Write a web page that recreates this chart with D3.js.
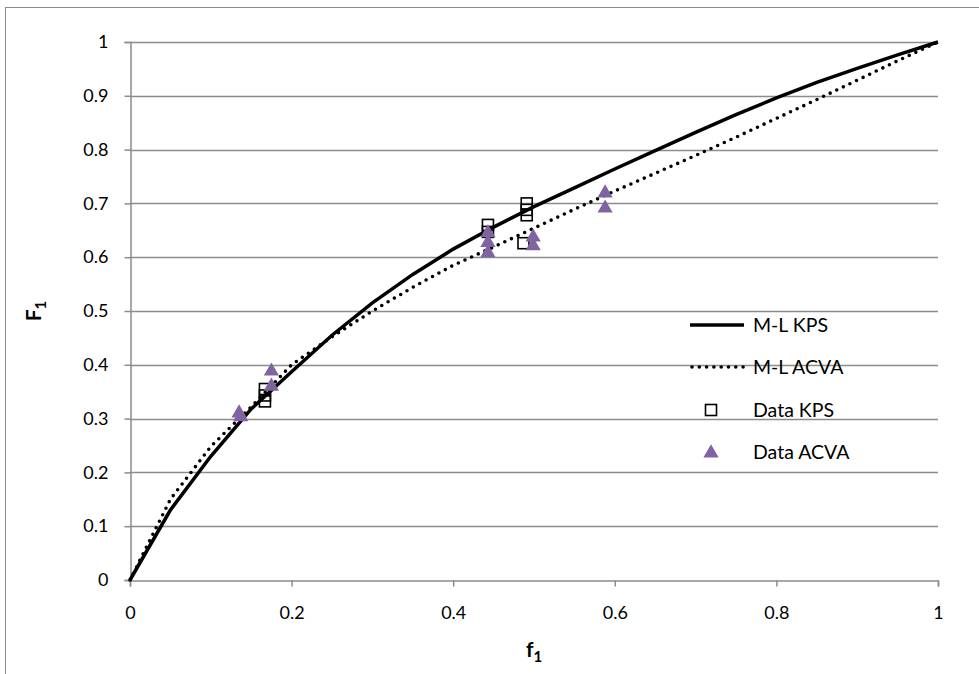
<!DOCTYPE html>
<html>
<head>
<meta charset="utf-8">
<script src="https://cdn.jsdelivr.net/npm/d3@7"></script>
<style>
  body { margin: 0; background: #fff; }
  svg text { font-family: Lato, "Open Sans", sans-serif; fill: #000; }
</style>
</head>
<body>
<div id="chart"></div>
<script>
// model curves
let curveX = [0, 0.05, 0.1, 0.15, 0.2, 0.25, 0.3, 0.35, 0.4, 0.45, 0.5, 0.55, 0.6, 0.65, 0.7, 0.75, 0.8, 0.85, 0.9, 0.95, 1];
let kpsModel = [0, 0.13, 0.23, 0.318, 0.387, 0.455, 0.515, 0.568, 0.615, 0.656, 0.694, 0.729, 0.764, 0.798, 0.832, 0.865, 0.896, 0.925, 0.951, 0.976, 1];
let acvaModel = [0, 0.15, 0.248, 0.322, 0.4, 0.452, 0.5, 0.544, 0.585, 0.619, 0.654, 0.689, 0.723, 0.756, 0.789, 0.823, 0.858, 0.893, 0.929, 0.965, 1];

// measured points
let kpsX = [0.167, 0.167, 0.167, 0.443, 0.443, 0.491, 0.491, 0.491, 0.487];
let kpsY = [0.355, 0.343, 0.332, 0.66, 0.647, 0.70, 0.688, 0.678, 0.626];
let acvaX = [0.135, 0.137, 0.175, 0.175, 0.443, 0.443, 0.443, 0.499, 0.499, 0.588, 0.588];
let acvaY = [0.312, 0.305, 0.39, 0.362, 0.647, 0.629, 0.61, 0.639, 0.623, 0.721, 0.693];

let xTicks = [0, 0.2, 0.4, 0.6, 0.8, 1];
let yTicks = [0, 0.1, 0.2, 0.3, 0.4, 0.5, 0.6, 0.7, 0.8, 0.9, 1];

let legendNames = ["M-L KPS", "M-L ACVA", "Data KPS", "Data ACVA"];

let width = 979, height = 674;
let margin = {top: 42, right: 41, bottom: 94, left: 130};
let purple = "#8064a2";
let grid = "#8c8c8c";

let svg = d3.select("#chart").append("svg")
    .attr("width", width)
    .attr("height", height);

// outer chart border (right/bottom fall outside the picture)
svg.append("rect")
    .attr("x", 5.5).attr("y", 7.5)
    .attr("width", width + 20).attr("height", height + 20)
    .attr("fill", "none")
    .attr("stroke", grid);

let xScale = d3.scaleLinear().domain([0, 1]).range([margin.left, width - margin.right]);
let yScale = d3.scaleLinear().domain([0, 1]).range([height - margin.bottom, margin.top]);

// gridlines
svg.append("g").selectAll("line")
    .data(yTicks.slice(1))
    .enter().append("line")
        .attr("x1", xScale(0)).attr("x2", xScale(1))
        .attr("y1", d => Math.round(yScale(d)) + 0.5)
        .attr("y2", d => Math.round(yScale(d)) + 0.5)
        .attr("stroke", grid)
        .attr("stroke-width", 1.5);

let xAxis = svg.append("g")
    .attr("transform", "translate(0," + (Math.round(yScale(0)) + 0.5) + ")")
    .call(d3.axisBottom(xScale).tickValues(xTicks).tickSize(6).tickPadding(20)
        .tickFormat(d3.format("")));

let yAxis = svg.append("g")
    .attr("transform", "translate(" + (Math.round(xScale(0)) + 0.5) + ",0)")
    .call(d3.axisLeft(yScale).tickValues(yTicks).tickSize(6).tickPadding(16)
        .tickFormat(d3.format("")));

[xAxis, yAxis].forEach(a => {
    a.select(".domain").attr("stroke", grid).attr("stroke-width", 1.5);
    a.selectAll(".tick line").attr("stroke", grid).attr("stroke-width", 1.5);
    a.selectAll("text").style("font-size", "18px").attr("fill", "#000");
});

// axis titles
let xTitle = svg.append("text")
    .attr("x", (xScale(0) + xScale(1)) / 2)
    .attr("y", 657)
    .attr("text-anchor", "middle")
    .style("font-size", "21px")
    .style("font-weight", "bold");
xTitle.append("tspan").text("f");
xTitle.append("tspan").attr("dy", 5).style("font-size", "15px").text("1");

let yTitle = svg.append("text")
    .attr("transform", "translate(41," + (yScale(0.5)) + ") rotate(-90)")
    .attr("text-anchor", "middle")
    .style("font-size", "21px")
    .style("font-weight", "bold");
yTitle.append("tspan").text("F");
yTitle.append("tspan").attr("dy", 5).style("font-size", "15px").text("1");

// model lines
let line = d3.line()
    .x((d, i) => xScale(curveX[i]))
    .y(d => yScale(d));

svg.append("path")
    .datum(kpsModel)
    .attr("d", line)
    .attr("fill", "none")
    .attr("stroke", "#000")
    .attr("stroke-width", 3.5);

svg.append("path")
    .datum(acvaModel)
    .attr("d", line)
    .attr("fill", "none")
    .attr("stroke", "#000")
    .attr("stroke-width", 3.6)
    .attr("stroke-linecap", "round")
    .attr("stroke-dasharray", "0 7.3");

// data markers
let sq = 11;
svg.append("g").selectAll("rect")
    .data(kpsX)
    .enter().append("rect")
        .attr("x", (d, i) => xScale(d) - sq / 2)
        .attr("y", (d, i) => yScale(kpsY[i]) - sq / 2)
        .attr("width", sq).attr("height", sq)
        .attr("fill", "none")
        .attr("stroke", "#000")
        .attr("stroke-width", 1.6);

let tri = d3.symbol().type(d3.symbolTriangle).size(100);
svg.append("g").selectAll("path")
    .data(acvaX)
    .enter().append("path")
        .attr("d", tri)
        .attr("transform", (d, i) => "translate(" + xScale(d) + "," + (yScale(acvaY[i]) + 1) + ")")
        .attr("fill", purple);

// legend
let legend = svg.append("g");
let legendY = [325, 367, 410, 452];
legendNames.forEach((name, i) => {
    let g = legend.append("g").attr("transform", "translate(0," + legendY[i] + ")");
    if (i == 0 || i == 1) {
        let l = g.append("line")
            .attr("x1", 690).attr("x2", 744)
            .attr("stroke", "#000");
        if (i == 0) {
            l.attr("stroke-width", 3.5);
        } else {
            l.attr("stroke-width", 3.6).attr("stroke-linecap", "round")
                .attr("stroke-dasharray", "0 7.3").attr("x1", 692);
        }
    } else if (i == 2) {
        g.append("rect")
            .attr("x", 711 - sq / 2).attr("y", -sq / 2)
            .attr("width", sq).attr("height", sq)
            .attr("fill", "none").attr("stroke", "#000").attr("stroke-width", 1.6);
    } else {
        g.append("path").attr("d", tri)
            .attr("transform", "translate(711,1)")
            .attr("fill", purple);
    }
    g.append("text")
        .attr("x", 753)
        .attr("dy", "0.35em")
        .style("font-size", "19.5px")
        .text(name);
});
</script>
</body>
</html>
